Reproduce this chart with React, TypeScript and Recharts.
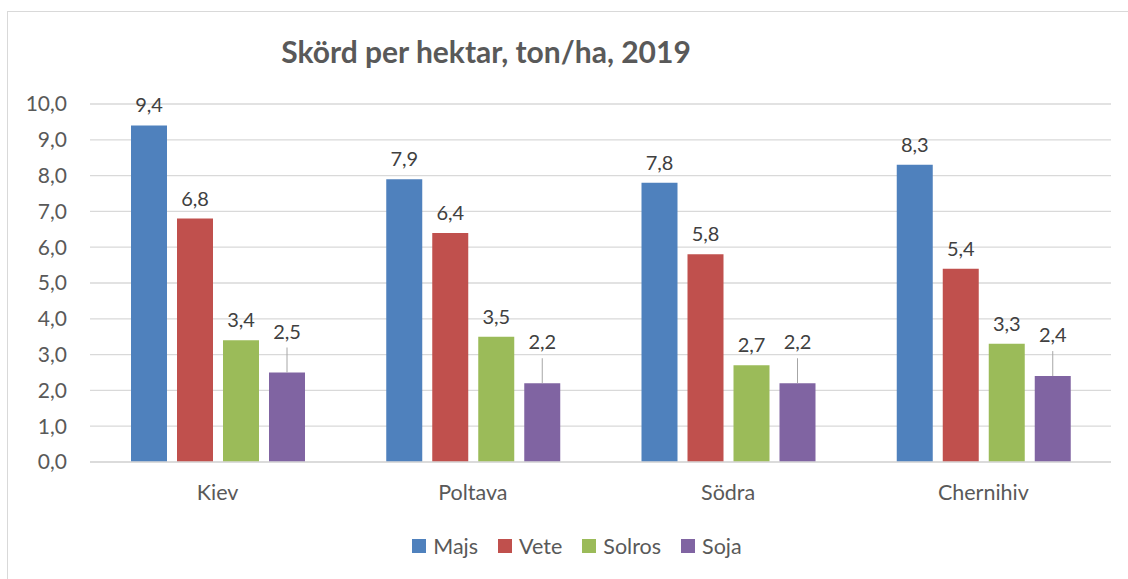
import React from 'react';
import { BarChart, Bar, XAxis, YAxis, CartesianGrid, Legend, LabelList } from 'recharts';

const categories = ['Kiev', 'Poltava', 'Södra', 'Chernihiv'];
const majs = [9.4, 7.9, 7.8, 8.3];
const vete = [6.8, 6.4, 5.8, 5.4];
const solros = [3.4, 3.5, 2.7, 3.3];
const soja = [2.5, 2.2, 2.2, 2.4];
const yTicks = [0, 1, 2, 3, 4, 5, 6, 7, 8, 9, 10];

const seriesNames = ['Majs', 'Vete', 'Solros', 'Soja'];
const colors = ['#4F81BD', '#C0504D', '#9BBB59', '#8064A2'];

const FONT = 'Lato, "Open Sans", sans-serif';

const data = categories.map((c, i) => ({
    name: c,
    Majs: majs[i],
    Vete: vete[i],
    Solros: solros[i],
    Soja: soja[i],
}));

const fmt = (v: number) => v.toFixed(1).replace('.', ',');

// Soja labels sit higher with a small leader line down to the bar
const SojaLabel = (props: any) => {
    const { x, y, width, value } = props;
    const cx = x + width / 2;
    return (
        <g>
            <line x1={cx} x2={cx} y1={y - 25} y2={y} stroke="#A6A6A6" strokeWidth={1} />
            <text x={cx} y={y - 34} textAnchor="middle" fill="#404040" fontSize={20} fontFamily={FONT}>
                {fmt(value)}
            </text>
        </g>
    );
};

const CustomLegend = () => (
    <div style={{ display: 'flex', justifyContent: 'center', alignItems: 'center', height: 38, gap: 20, fontFamily: FONT, fontSize: 21.5, color: '#595959', paddingLeft: 43 }}>
        {seriesNames.map((n, i) => (
            <div key={n} style={{ display: 'flex', alignItems: 'center', gap: 7 }}>
                <div style={{ width: 14, height: 14, background: colors[i] }}></div>
                <span>{n}</span>
            </div>
        ))}
    </div>
);

export default function App() {
    return (
        <div style={{ position: 'fixed', left: 0, top: 0, width: 1128, height: 579, overflow: 'hidden', background: '#fff' }}>
            <div style={{ position: 'absolute', left: 7, top: 11, width: 1140, height: 600, border: '1px solid #D9D9D9' }}></div>
            <div style={{ position: 'absolute', left: 0, top: 34, width: 972, textAlign: 'center', fontFamily: FONT, fontWeight: 'bold', fontSize: 30, lineHeight: '34px', color: '#595959' }}>
                Skörd per hektar, ton/ha, 2019
            </div>
            <div style={{ position: 'absolute', left: 0, top: 0 }}>
                <BarChart
                    width={1128}
                    height={579}
                    data={data}
                    margin={{ top: 104, right: 17, left: 0, bottom: 14 }}
                    barSize={36}
                    barGap={10}
                >
                    <CartesianGrid vertical={false} stroke="#D9D9D9" strokeWidth={1.3} />
                    <XAxis
                        dataKey="name"
                        height={65}
                        tickSize={0}
                        tickMargin={23}
                        axisLine={{ stroke: '#D9D9D9', strokeWidth: 1.3 }}
                        tick={{ fill: '#595959', fontSize: 21.5, fontFamily: FONT }}
                        interval={0}
                    />
                    <YAxis
                        width={90}
                        domain={[0, 10]}
                        ticks={yTicks}
                        tickFormatter={fmt}
                        axisLine={false}
                        tickLine={false}
                        tickSize={0}
                        tickMargin={23}
                        tick={{ fill: '#595959', fontSize: 21, fontFamily: FONT }}
                    />
                    <Legend verticalAlign="bottom" content={<CustomLegend />} />
                    {seriesNames.map((n, i) => (
                        <Bar key={n} dataKey={n} fill={colors[i]} isAnimationActive={false}>
                            {n === 'Soja' ? (
                                <LabelList dataKey={n} content={<SojaLabel />} />
                            ) : (
                                <LabelList
                                    dataKey={n}
                                    position="top"
                                    offset={13}
                                    formatter={(v: any) => fmt(v)}
                                    fill="#404040"
                                    fontSize={20}
                                    fontFamily={FONT}
                                />
                            )}
                        </Bar>
                    ))}
                </BarChart>
            </div>
        </div>
    );
}
